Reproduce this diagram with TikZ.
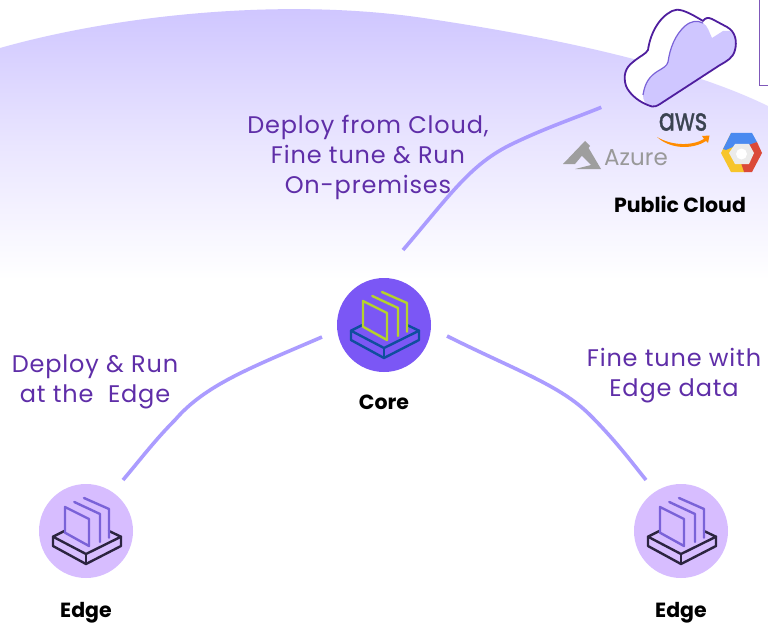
\documentclass[tikz,border=0pt]{standalone}
\usepackage{fontspec}
\setmainfont{Poppins}
\newfontfamily\capfont[LetterSpace=3.5]{Poppins}
\newfontfamily\awsfont[FakeBold=1.2]{Poppins}
\usetikzlibrary{shadings}
\definecolor{dome}{HTML}{CFC6FF}
\definecolor{wire}{HTML}{AB9CFF}
\definecolor{ink}{HTML}{5F2EA8}
\definecolor{cloudline}{HTML}{4F1E9E}
\definecolor{corefill}{HTML}{7B57F5}
\definecolor{edgefill}{HTML}{D7BDFF}
\definecolor{coreblue}{HTML}{0F4E9E}
\definecolor{corelime}{HTML}{B5D22C}
\definecolor{edgedark}{HTML}{2C2440}
\definecolor{edgepanel}{HTML}{7A62D8}
\definecolor{awsink}{HTML}{3A4350}
\definecolor{gcyellow}{HTML}{F7C52B}
\definecolor{gcblue}{HTML}{4A8AF0}
\definecolor{gcred}{HTML}{DB4A38}
\tikzset{
  x=1pt,y=-1pt,
  wirepath/.style={draw=wire,line width=3.6pt,line cap=butt},
  caption/.style={text=ink,font=\capfont\fontsize{24}{30}\selectfont,align=center,inner sep=0pt},
  tag/.style={text=black,font=\fontsize{20.5}{24}\selectfont\bfseries,inner sep=0pt},
  hub/.style={circle,minimum size=94pt,inner sep=0pt},
}
\newcommand{\stackicon}[3]{% center name, base colour, panel colour
  \begin{scope}[shift={(#1)},line width=2.4pt,line join=round,line cap=round]
    \draw[#2] (-21.7,0) -- (-33,5.7) -- (0,23) -- (35,5.7) -- (23,0);
    \draw[#2] (-33,5.7) -- (-33,15) -- (0,33) -- (35,15) -- (35,5.7);
    \draw[#2] (0,23) -- (0,33);
    \draw[#3] (-21,1.7) -- (-21,-24) -- (3,-12) -- (3,15) -- cycle;
    \draw[#3] (-11.7,-29) -- (14,-17) -- (14,11);
    \draw[#3] (-2,-33) -- (23,-22) -- (23,6.7);
  \end{scope}}
\begin{document}
\begin{tikzpicture}
\useasboundingbox (0,0) rectangle (768,623);
\fill[white] (0,0) rectangle (768,623);
% dome
\begin{scope}
  \clip (0,48) .. controls (120,14) and (290,-3) .. (430,19) .. controls (570,40) and (690,68) .. (768,106) -- (768,280) -- (0,280) -- cycle;
  \shade[top color=dome,bottom color=white,middle color=dome!45!white] (0,8) rectangle (768,280);
\end{scope}
% hubs
\node[hub,fill=corefill] (core) at (384,325) {};
\node[hub,fill=edgefill] (edgeL) at (86,531) {};
\node[hub,fill=edgefill] (edgeR) at (681,531) {};
\stackicon{core}{coreblue}{corelime}
\stackicon{edgeL}{edgedark}{edgepanel}
\stackicon{edgeR}{edgedark}{edgepanel}
\node[tag] (coreTag) at (384,402.5) {Core};
\node[tag] (edgeLTag) at (86,612.5) {Edge};
\node[tag] (edgeRTag) at (681,612.5) {Edge};
\node[tag] (cloudTag) at (680,204.5) {Public Cloud};
% captions
\node[caption] (cap1) at (368,157) {Deploy from Cloud,\\Fine tune \& Run\\On-premises};
\node[caption] (cap2) at (95,382) {Deploy \& Run\\at the~~Edge};
\node[caption] (cap3) at (674,376) {Fine tune with\\Edge data};
% connectors
\node[inner sep=0pt,minimum size=1pt] (cloudAnchor) at (602,107) {};
\coordinate (coreUp) at (403,250);
\coordinate (coreL) at (322,337);
\coordinate (coreR) at (447,336);
\coordinate (edgeLUp) at (123,480);
\coordinate (edgeRUp) at (646,480);
\draw[wirepath] (coreUp) .. controls (450,195) and (470,165) .. (510,145) .. controls (545,128) and (575,118) .. (cloudAnchor);
\draw[wirepath] (coreL) .. controls (250,368) and (205,385) .. (175,420) .. controls (155,440) and (140,460) .. (edgeLUp);
\draw[wirepath] (coreR) .. controls (515,370) and (560,385) .. (590,415) .. controls (615,440) and (630,460) .. (edgeRUp);
% cloud icon
\fill[white]
  (652,106.5) .. controls (640,103) and (630,95) .. (626,86)
  .. controls (623,76) and (625,68) .. (633,62)
  .. controls (640,56) and (646,54) .. (648,50)
  .. controls (650,35) and (658,18) .. (672,11)
  .. controls (678,8) and (685,10) .. (703,21)
  .. controls (705,18) and (708,17) .. (712,19)
  -- (727,27)
  .. controls (736,32) and (737,42) .. (735,50)
  .. controls (733,58) and (727,61) .. (720,65)
  -- (660,104) .. controls (657,106) and (654,107) .. (652,106.5) -- cycle;
\fill[fill=dome,draw=none]
  (652,106.5) .. controls (645,105) and (643,100) .. (643,95)
  .. controls (645,82) and (650,76) .. (658,71)
  .. controls (663,68) and (667,66) .. (668,62)
  .. controls (670,48) and (675,35) .. (685,26)
  .. controls (691,21) and (697,20) .. (703,23)
  .. controls (708,26) and (709,32) .. (712,38)
  -- (723,31) -- (730,31)
  .. controls (736,36) and (737,42) .. (735,50)
  .. controls (733,58) and (727,61) .. (720,65)
  -- (660,104) .. controls (657,106) and (654,107) .. (652,106.5) -- cycle;
\draw[draw=edgepanel,line width=1.2pt]
  (643,95) .. controls (645,82) and (650,76) .. (658,71)
  .. controls (663,68) and (667,66) .. (668,62)
  .. controls (670,48) and (675,35) .. (685,26)
  .. controls (691,21) and (697,20) .. (703,23);
\draw[draw=cloudline,line width=1.8pt,line join=round]
  (652,106.5) .. controls (640,103) and (630,95) .. (626,86)
  .. controls (623,76) and (625,68) .. (633,62)
  .. controls (640,56) and (646,54) .. (648,50)
  .. controls (650,35) and (658,18) .. (672,11)
  .. controls (678,8) and (685,10) .. (703,21)
  .. controls (705,18) and (708,17) .. (712,19)
  -- (727,27)
  .. controls (736,32) and (737,42) .. (735,50)
  .. controls (733,58) and (727,61) .. (720,65)
  -- (660,104) .. controls (657,106) and (654,107) .. (652,106.5) -- cycle;
% callout box fragment
\draw[draw=ink!80,line width=1pt] (759,0) -- (759,85.5) -- (768,85.5);
% aws
\node[inner sep=0pt,text=awsink,font=\awsfont\fontsize{24}{26}\selectfont] (aws) at (683,122) {\scalebox{1}[1.3]{aws}};
\fill[orange!90!yellow] (657,137) .. controls (672,146) and (692,146) .. (704,139) -- (702,136) -- (709.5,135.5) -- (708,143) -- (706,141) .. controls (692,150) and (670,149) .. (657,137) -- cycle;
% azure
\fill[black!38] (585,141) -- (563,164) -- (575,164) -- (590,146) -- cycle;
\fill[black!38] (588,147) -- (601,169) -- (575,169) -- (591,165) -- (581,155) -- cycle;
\node[inner sep=0pt,text=black!40,font=\fontsize{23}{24}\selectfont] (azure) at (636,158) {Azure};
% google cloud hexagon
\fill[gcyellow] (731,133) -- (721,153) -- (731,172) -- (745,172) -- (748,160) -- (735,146) -- cycle;
\fill[gcblue] (731,133) -- (752,133) -- (757,142) -- (750,146) -- (735,146) -- (726,150) -- (723,149) -- cycle;
\fill[gcred] (757,142) -- (762,153) -- (752,172) -- (744,172) -- (741,163) -- (749,153) -- (746,146) -- cycle;
\fill[black!8] (735,144) -- (749,144) -- (754,153) -- (749,164) -- (735,164) -- (729,153) -- cycle;
\fill[white] (741.5,154) circle (5.5pt);
\end{tikzpicture}
\end{document}
